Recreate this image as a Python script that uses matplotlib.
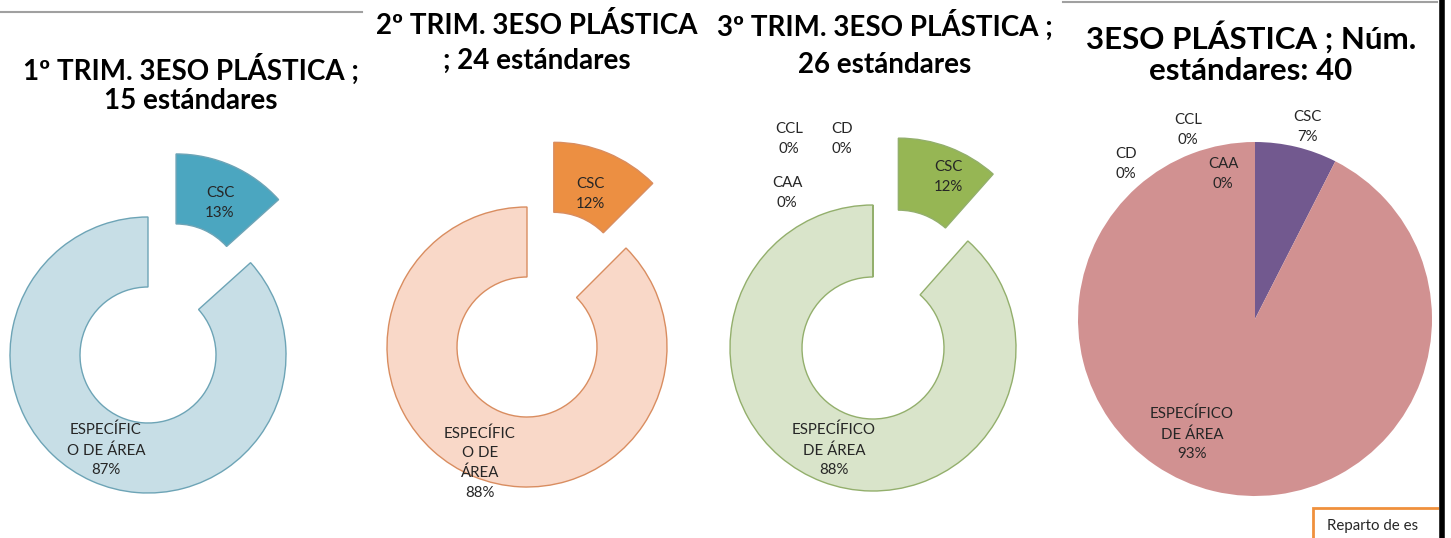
import matplotlib
matplotlib.use('Agg')
import matplotlib.pyplot as plt
from matplotlib.patches import Rectangle

plt.rcParams['font.family'] = ['Lato', 'DejaVu Sans']

W, H = 1451, 538

# ---- data ----
titles = ['1º TRIM. 3ESO PLÁSTICA ;\n15 estándares',
          '2º TRIM. 3ESO PLÁSTICA\n; 24 estándares',
          '3º TRIM. 3ESO PLÁSTICA ;\n26 estándares',
          '3ESO PLÁSTICA ; Núm.\nestándares: 40']

cats1 = ['CSC', 'ESPECÍFIC\nO DE ÁREA']
vals1 = [2, 13]
pct1 = [13, 87]

cats2 = ['CSC', 'ESPECÍFIC\nO DE\nÁREA']
vals2 = [3, 21]
pct2 = [12, 88]

cats3 = ['CSC', 'ESPECÍFICO\nDE ÁREA', 'CAA', 'CCL', 'CD']
vals3 = [3, 23, 0, 0, 0]
pct3 = [12, 88, 0, 0, 0]

cats4 = ['CSC', 'ESPECÍFICO\nDE ÁREA', 'CD', 'CCL', 'CAA']
vals4 = [3, 37, 0, 0, 0]
pct4 = [7, 93, 0, 0, 0]

# ---- layout (image pixel coords, y down) ----
donuts = [
    dict(vals=vals1, cats=cats1, pct=pct1, c=(148, 355), r=138, w=70,
         cols=['#4BA6C0', '#C7DEE6'], edge='#6DA4B6',
         lab=[(220, 203), (106, 450)]),
    dict(vals=vals2, cats=cats2, pct=pct2, c=(527, 347), r=140, w=70,
         cols=['#EC8F42', '#F9D8C8'], edge='#D98D60',
         lab=[(590, 194), (480, 463)]),
    dict(vals=vals3, cats=cats3, pct=pct3, c=(873, 348), r=143, w=72,
         cols=['#96B654', '#D9E4CA', '#D9E4CA', '#D9E4CA', '#D9E4CA'], edge='#93AF6C',
         lab=[(948, 177), (834, 450), (787, 193), (789, 139), (842, 139)]),
]

fig = plt.figure(figsize=(W / 100, H / 100), dpi=100)
ax = fig.add_axes([0, 0, 1, 1])

txt_col = '#262626'

for d in donuts:
    cx, cy = d['c']
    # explode is in data units here, pulled out by half the radius
    explode = [0.5 * d['r']] + [0] * (len(d['vals']) - 1)
    ax.pie(d['vals'], center=(cx, H - cy), radius=d['r'], startangle=90,
           counterclock=False, explode=explode, colors=d['cols'],
           wedgeprops=dict(width=d['w'], edgecolor=d['edge'], linewidth=1.0))
    for name, p, (lx, ly) in zip(d['cats'], d['pct'], d['lab']):
        ax.text(lx, H - ly, '%s\n%d%%' % (name, p), ha='center', va='center',
                fontsize=10.8, color=txt_col, linespacing=1.5)

# full pie
ax.pie(vals4, center=(1255, H - 319), radius=177, startangle=90,
       counterclock=False, colors=['#72598F', '#D19191', '#D19191', '#D19191', '#D19191'],
       wedgeprops=dict(linewidth=0))
lab4 = [(1307, 127), (1192, 434), (1126, 164), (1188, 130), (1223, 174)]
for name, p, (lx, ly) in zip(cats4, pct4, lab4):
    ax.text(lx, H - ly, '%s\n%d%%' % (name, p), ha='center', va='center',
            fontsize=10.8, color=txt_col, linespacing=1.5)

# titles: x, y, size, line spacing
title_pos = [(191, 84, 20, 1.18), (537, 43, 20, 1.45), (885, 44, 20, 1.5),
             (1251, 53, 22.5, 1.15)]
for t, (tx, ty, fs, ls) in zip(titles, title_pos):
    ax.text(tx, H - ty, t, ha='center', va='center', fontsize=fs,
            fontweight='bold', color='black', linespacing=ls)

# chart frame remnants
ax.plot([0, 362], [H - 12, H - 12], color='#A0A0A0', lw=1.5)
ax.plot([1063, 1437], [H - 2, H - 2], color='#A0A0A0', lw=1.5)
ax.add_patch(Rectangle((1313, -5), 130, H - 508 + 5, facecolor='white',
                       edgecolor='#F0903C', lw=2))
ax.text(1327, H - 526, 'Reparto de es', ha='left', va='center', fontsize=10.8,
        color=txt_col)
ax.add_patch(Rectangle((1439, 0), 12, H, facecolor='white', edgecolor='none'))
ax.plot([1441.5, 1441.5], [0, H], color='black', lw=4)

ax.set_xlim(0, W)
ax.set_ylim(0, H)
ax.set_aspect('auto')
ax.axis('off')

fig.savefig('out.png', dpi=100)
